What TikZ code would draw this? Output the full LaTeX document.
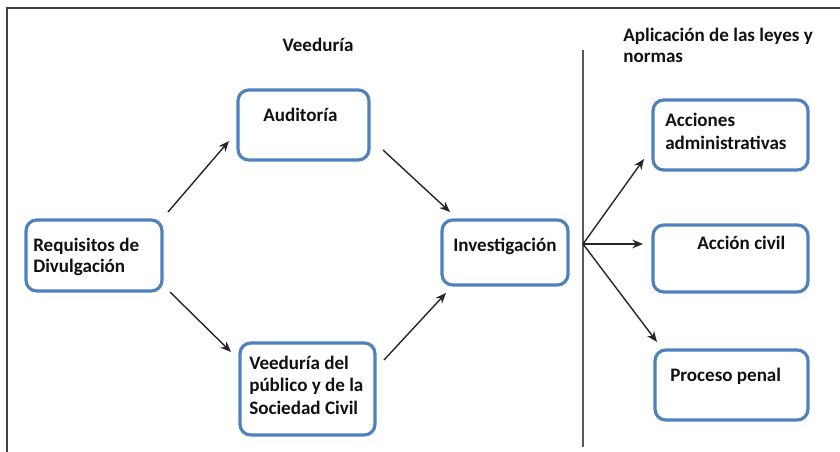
\documentclass[tikz,border=0pt]{standalone}
\usepackage{fontspec}
\setmainfont{Carlito}
\usetikzlibrary{fit,arrows.meta}
\definecolor{boxblue}{HTML}{4F81BD}
\definecolor{txt}{HTML}{111111}
\begin{document}
\begin{tikzpicture}[x=0.75pt,y=-0.75pt,
  box/.style={draw=boxblue,line width=2.4pt,rounded corners=8pt,inner sep=0pt,fill=white},
  lbl/.style={font=\fontsize{14.3}{16.5}\selectfont\bfseries,text=txt,inner sep=0pt,align=left},
  conn/.style={draw=black!85,line width=1.05pt,-{Stealth[length=8pt,width=6.5pt]}},
  sep/.style={draw=black!65,line width=0.8pt},
  frame/.style={draw=black!75,line width=1.5pt}]
\useasboundingbox (0,0) rectangle (840,452);
% frame
\coordinate (fbl) at (7,452);
\coordinate (ftl) at (7,8);
\coordinate (ftr) at (840,8);
\draw[frame] (fbl) -- (ftl) -- (ftr);
% separator
\coordinate (st) at (583,50);
\coordinate (sb) at (583,447);
\draw[sep] (st) -- (sb);
% headings
\node[lbl,anchor=base] (h1) at (318,52) {Veeduría};
\node[lbl,anchor=base west] (h2) at (623,42) {Aplicación de las leyes y};
\node[lbl,anchor=base west] (h3) at (623,63) {normas};
% boxes
\node[box,fit={(26,220) (162,291)}] (req) {};
\node[box,fit={(238,90) (369,160)}] (aud) {};
\node[box,fit={(240,343) (375,435)}] (vee) {};
\node[box,fit={(442,220) (568,285)}] (inv) {};
\node[box,fit={(653,100) (808,170)}] (acc) {};
\node[box,fit={(653,225) (808,292)}] (civ) {};
\node[box,fit={(655,350) (808,420)}] (pen) {};
% texts
\node[lbl,anchor=base west] (treq1) at (33,252) {Requisitos de};
\node[lbl,anchor=base west] (treq2) at (33,273) {Divulgación};
\node[lbl,anchor=base west] (taud) at (263,122) {Auditoría};
\node[lbl,anchor=base west] (tvee1) at (249,370) {Veeduría del};
\node[lbl,anchor=base west] (tvee2) at (249,392) {público y de la};
\node[lbl,anchor=base west] (tvee3) at (249,415) {Sociedad Civil};
\node[lbl,anchor=base west] (tinv) at (453,252) {Investigación};
\node[lbl,anchor=base west] (tacc1) at (665,127) {Acciones};
\node[lbl,anchor=base west] (tacc2) at (665,150) {administrativas};
\node[lbl,anchor=base west] (tciv) at (697,250) {Acción civil};
\node[lbl,anchor=base west] (tpen) at (670,382) {Proceso penal};
% connector ends
\coordinate (a1s) at (168,212); \coordinate (a1e) at (229,141);
\coordinate (a2s) at (383,150); \coordinate (a2e) at (450,212);
\coordinate (a3s) at (170,292); \coordinate (a3e) at (231,352);
\coordinate (a4s) at (384,360); \coordinate (a4e) at (446,293);
\coordinate (hub) at (583,244);
\coordinate (b1e) at (644,159);
\coordinate (b2e) at (643,244);
\coordinate (b3e) at (657,342);
\draw[conn] (a1s) -- (a1e);
\draw[conn] (a2s) -- (a2e);
\draw[conn] (a3s) -- (a3e);
\draw[conn] (a4s) -- (a4e);
\draw[conn] (hub) -- (b1e);
\draw[conn] (hub) -- (b2e);
\draw[conn] (hub) -- (b3e);
\end{tikzpicture}
\end{document}
